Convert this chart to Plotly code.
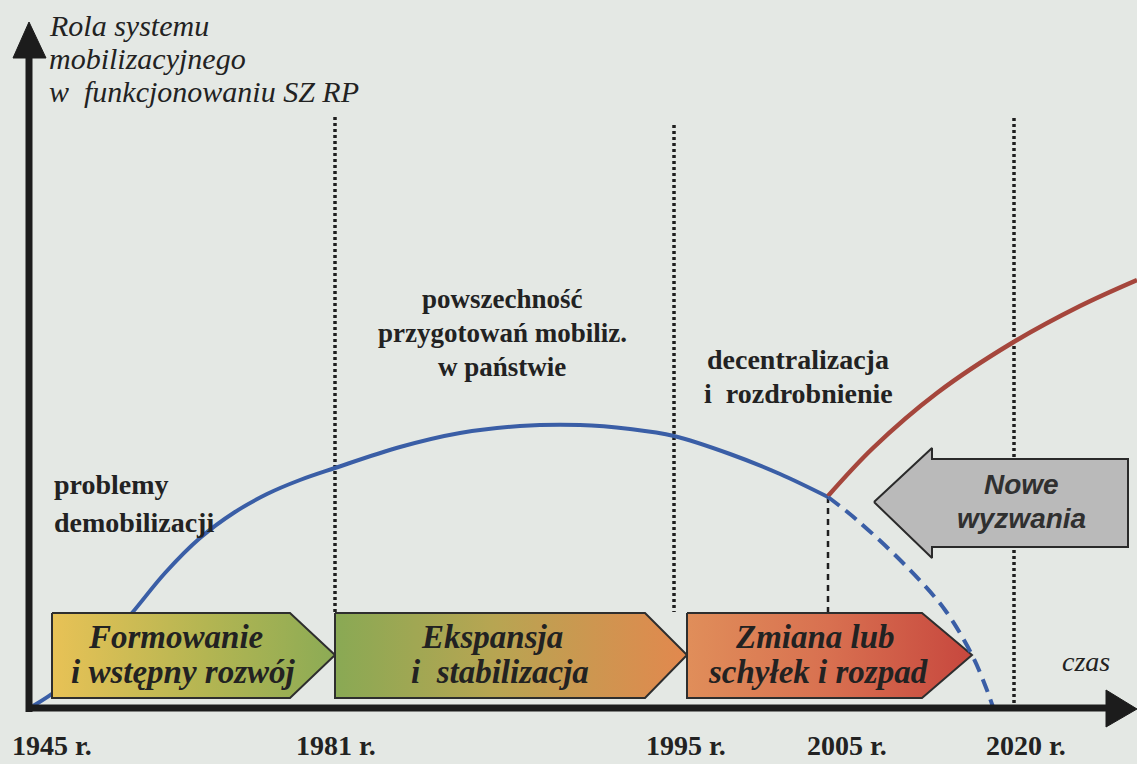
import plotly.graph_objects as go

# ---------------- data ----------------
years = ["1945 r.", "1981 r.", "1995 r.", "2005 r.", "2020 r."]
year_pos = [52, 336, 686, 847, 1026]

era_titles = [["Formowanie", "i wstępny rozwój"],
              ["Ekspansja", "i\u00a0 stabilizacja"],
              ["Zmiana lub", "schyłek i rozpad"]]

# role curve (x, y in drawing units)
role_x = [33, 60, 95, 132, 165, 200, 235, 267, 300, 335, 400, 460, 520, 580, 630, 674, 730, 780, 828]
role_y = [706, 688, 655, 613, 573, 538, 512, 494, 480, 468, 447, 433, 426, 425, 429, 436, 454, 474, 497]
decline_x = [828, 857, 907, 945, 972, 985, 993]
decline_y = [497, 520, 567, 610, 655, 685, 707]
new_x = [828, 873, 937, 1012, 1080, 1137]
new_y = [496, 448, 393, 343, 306, 280]

axis_title = ["Rola systemu", "mobilizacyjnego", "w\u00a0 funkcjonowaniu SZ RP"]
note_1 = ["problemy", "demobilizacji"]
note_2 = ["powszechność", "przygotowań mobiliz.", "w państwie"]
note_3 = ["decentralizacja", "i\u00a0 rozdrobnienie"]
challenge = ["Nowe", "wyzwania"]

BG = "#e4e8e4"
INK = "#222222"
SERIF = "Liberation Serif, Times New Roman, serif"
SANS = "Liberation Sans, Arial, sans-serif"

fig = go.Figure()


def poly(xs, ys, **kw):
    fig.add_trace(go.Scatter(x=xs + [xs[0]], y=ys + [ys[0]], mode="lines",
                             fill="toself", hoverinfo="skip", showlegend=False, **kw))


def line(xs, ys, color, width, dash="solid", shape="linear"):
    fig.add_trace(go.Scatter(x=xs, y=ys, mode="lines", hoverinfo="skip", showlegend=False,
                             line=dict(color=color, width=width, dash=dash, shape=shape)))


# dotted era boundaries
line([335, 335], [117, 612], "#1e1e1e", 3.5, "3px,3px")
line([674, 674], [125, 612], "#1e1e1e", 3.5, "3px,3px")
line([1014, 1014], [118, 704], "#1e1e1e", 3.5, "3px,3px")
line([828, 828], [497, 613], "#1e1e1e", 2.5, "6px,5px")

# role curve
line(role_x, role_y, "#3a5ea6", 4, shape="spline")
line(new_x, new_y, "#a5463c", 4.5, shape="spline")

# era arrows with gradients
grads = [[[0, "#e8c256"], [0.55, "#b3b552"], [1, "#8cab55"]],
         [[0, "#89a954"], [0.45, "#b7a552"], [1, "#e2884e"]],
         [[0, "#e08e5a"], [0.5, "#d87050"], [1, "#c7473e"]]]
boxes = [(52, 290, 335), (335, 645, 687), (687, 922, 972)]
for (l, s, t), g in zip(boxes, grads):
    poly([l, s, t, s, l], [613, 613, 655, 698, 698],
         line=dict(color="#2e2e2e", width=2),
         fillgradient=dict(type="horizontal", colorscale=g))

# decline dashed
line(decline_x, decline_y, "#3a5ea6", 4, "14px,8px", shape="spline")

# new challenges arrow
poly([874, 932, 932, 1128, 1128, 932, 932], [502, 448, 459, 459, 547, 547, 558],
     line=dict(color="#2a2a2a", width=2), fillcolor="#bababa")

# axes
line([29, 29], [712, 52], "#1c1c1c", 7)
poly([13, 29, 46], [58, 22, 58], line=dict(color="#1c1c1c", width=1), fillcolor="#1c1c1c")
line([26, 1108], [708, 708], "#1c1c1c", 7)
poly([1106, 1137, 1106], [690, 709, 727], line=dict(color="#1c1c1c", width=1), fillcolor="#1c1c1c")

ann = []


def text(t, x, y, size, family=SERIF, weight="normal", style="normal", xanchor="center",
         yanchor="middle", color=INK):
    ann.append(dict(text=t, x=x, y=y, xref="x", yref="y", showarrow=False,
                    xanchor=xanchor, yanchor=yanchor,
                    font=dict(family=family, size=size, color=color, weight=weight, style=style)))


for i, t in enumerate(axis_title):
    text(t, 47, 25 + 33 * i, 30, style="italic", xanchor="left")
for i, t in enumerate(note_1):
    text(t, 52, 484 + 38 * i, 28, weight="bold", xanchor="left")
for i, t in enumerate(note_2):
    text(t, 502, 299 + 34 * i, 27, weight="bold")
for i, t in enumerate(note_3):
    text(t, 798, 359 + 34 * i, 28, weight="bold")

era_cx = [[175, 183], [492, 500], [815, 818]]
for (lines_, cx) in zip(era_titles, era_cx):
    for i, t in enumerate(lines_):
        text(t, cx[i], 637 + 35 * i, 33, weight="bold", style="italic")

for i, t in enumerate(challenge):
    text(t, 1021, 484 + 34 * i, 28, family=SANS, weight="bold", style="italic", color="#303030")

for t, x in zip(years, year_pos):
    text(t, x, 763, 28, weight="bold", yanchor="bottom")

text("czas", 1086, 661, 28, style="italic")

fig.update_layout(
    width=1137, height=764, autosize=False,
    margin=dict(l=0, r=0, t=0, b=0),
    paper_bgcolor=BG, plot_bgcolor=BG,
    xaxis=dict(range=[0, 1137], visible=False, fixedrange=True),
    yaxis=dict(range=[764, 0], visible=False, fixedrange=True),
    annotations=ann, showlegend=False,
)

fig.write_html(
    "out.html",
    config={"displayModeBar": False},
    post_script="document.body.style.margin='0';document.body.style.padding='0';"
                "document.body.style.overflow='hidden';"
                "document.documentElement.style.background='" + BG + "';",
)
